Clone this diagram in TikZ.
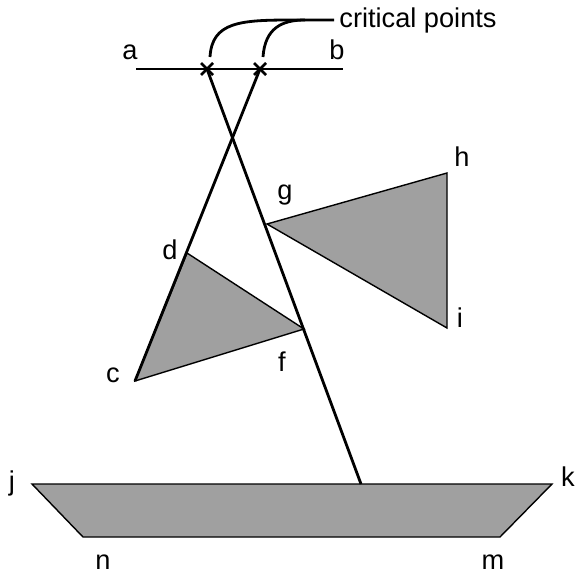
\documentclass[tikz,border=0pt]{standalone}
\usepackage{fontspec}
\setmainfont{Liberation Sans}
\usepackage{xcolor}
\definecolor{shade}{RGB}{160,160,160}
\usepackage{tikz}
\usetikzlibrary{positioning,calc}

\tikzset{
    heavy/.style={line width=1.4pt},
    face/.style={fill=shade, draw=black, line width=0.7pt},
    lbl/.style={font=\fontsize{13.6}{15}\selectfont, inner sep=0pt}
}

\begin{document}
\begin{tikzpicture}[x=0.5pt, y=-0.5pt]
        \useasboundingbox (0,0) rectangle (575,578);

        % Points
        \coordinate (pa) at (136,69);
        \coordinate (pb) at (343,69);
        \coordinate (x1) at (207,69);
        \coordinate (x2) at (260,69);
        \coordinate (pc) at (135,381);
        \coordinate (pd) at (187,253);
        \coordinate (pf) at (304,329);
        \coordinate (pg) at (267,224);
        \coordinate (ph) at (447,173);
        \coordinate (pi) at (447,328);
        \coordinate (pj) at (32,484);
        \coordinate (pk) at (552,484);
        \coordinate (pm) at (500,537);
        \coordinate (pn) at (83,537);
        \coordinate (foot) at (361,484);

        % Shaded faces
        \draw[face] (pc) -- (pd) -- (pf) -- cycle;
        \draw[face] (pg) -- (ph) -- (pi) -- cycle;
        \draw[face] (pj) -- (pk) -- (pm) -- (pn) -- cycle;

        % Segment and the two lines
        \draw[heavy] (pa) -- (pb);
        \draw[heavy] (x1) -- (foot);
        \draw[heavy] (x2) -- (pc);

        % Crosses
        \foreach \p in {x1,x2}
            \draw[heavy] ($(\p)+(-6,-6)$) -- ($(\p)+(6,6)$)
                         ($(\p)+(-6,6)$) -- ($(\p)+(6,-6)$);

        % Critical points
        \coordinate (tip) at (334,20);
        \node[lbl, anchor=west] (crit) at (339,20) {critical points};
        \draw[heavy] ($(x1)+(3,-12)$) .. controls (212,22) and (240,20) .. (292,20) -- (tip);
        \draw[heavy] ($(x2)+(3,-12)$) .. controls (265,28) and (282,20) .. (305,20);

        % Labels
        \node[lbl] (la) at (130,52) {a};
        \node[lbl] (lb) at (337,50) {b};
        \node[lbl] (lc) at (113,375) {c};
        \node[lbl] (ld) at (170,250) {d};
        \node[lbl] (lf) at (282,362) {f};
        \node[lbl] (lg) at (285,195) {g};
        \node[lbl] (lh) at (462,157) {h};
        \node[lbl] (li) at (460,318) {i};
        \node[lbl] (lj) at (12,483) {j};
        \node[lbl] (lk) at (568,477) {k};
        \node[lbl] (ln) at (103,562) {n};
        \node[lbl] (lm) at (493,562) {m};
    \end{tikzpicture}
\end{document}
